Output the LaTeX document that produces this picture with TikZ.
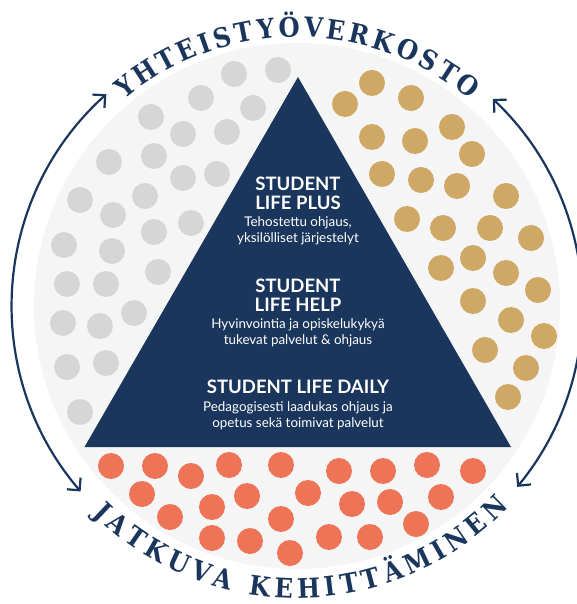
\documentclass[tikz,border=0pt]{standalone}
\usepackage{fontspec}
\setmainfont{Lato}
\newfontfamily\arcfont{DejaVu Serif Condensed}
\usetikzlibrary{arrows.meta, positioning, decorations.text}

\definecolor{navy}{RGB}{27, 54, 93}
\definecolor{discgrey}{RGB}{245, 245, 245}
\definecolor{dotgrey}{RGB}{214, 214, 214}
\definecolor{dotgold}{RGB}{207, 168, 102}
\definecolor{dotorange}{RGB}{238, 116, 87}

\newcommand{\ringfont}{\arcfont\bfseries\fontsize{27}{27}\selectfont\color{navy}}

\tikzset{
  tiertitle/.style={text=white, align=center, inner sep=0pt, font=\bfseries\fontsize{18.5}{19.5}\selectfont},
  tiernote/.style={text=white, align=center, inner sep=0pt, font=\fontsize{13.4}{16}\selectfont},
  ringarrow/.style={draw=navy, line width=2.2pt, <->, >={Straight Barb[length=9pt, width=18pt]}},
}

\begin{document}
\begin{tikzpicture}[x=1pt, y=1pt]
  \useasboundingbox (-297,-298) rectangle (279,306);

  % light disc behind everything
  \fill[discgrey] (0,0) circle[radius=263];

  % dots: partners (grey), services (gold), development (orange)
  \foreach \x/\y in {-63/232, -19/236, -96/208, -44/198, -146/189, -114/172, -70/174,
      -188/144, -143/150, -114/128, -80/132, -217/106, -184/91, -152/110, -106/83,
      -143/74, -233/61, -185/55, -139/34, -230/22, -191/22, -234/-17, -197/-20,
      -163/-7, -230/-61, -191/-57, -217/-106}
    \fill[dotgrey] (\x,\y) circle[radius=13];
  \foreach \x/\y in {75/223, 48/202, 114/208, 75/169, 118/165, 155/179, 175/152,
      85/132, 124/126, 160/120, 209/110, 110/87, 146/78, 193/78, 234/68, 144/38,
      176/48, 209/33, 241/16, 176/5, 214/-14, 247/-30, 188/-44, 229/-62, 211/-91}
    \fill[dotgold] (\x,\y) circle[radius=13];
  \foreach \x/\y in {-186/-160, -142/-160, -106/-170, -68/-159, -16/-159, 42/-165,
      86/-165, 130/-159, 176/-165, -155/-188, -50/-190, 11/-187, 55/-198, 93/-196,
      144/-191, -85/-201, -127/-211, -16/-213, 119/-218, -85/-232, -47/-235,
      32/-231, 73/-231, -7/-247}
    \fill[dotorange] (\x,\y) circle[radius=13];

  % pyramid
  \coordinate (apex) at (1,229);
  \coordinate (baseL) at (-212.5,-141);
  \coordinate (baseR) at (214,-141);
  \fill[navy] (apex) -- (baseL) -- (baseR) -- cycle;

  \node[tiertitle, anchor=north] (plus) at (1,129.3) {STUDENT\\LIFE PLUS};
  \node[tiernote, below=6pt of plus] (plusnote) {Tehostettu ohjaus,\\yksilölliset järjestelyt};
  \node[tiertitle, anchor=north] (help) at (1,27.7) {STUDENT\\LIFE HELP};
  \node[tiernote, below=7pt of help] (helpnote) {Hyvinvointia ja opiskelukykyä\\tukevat palvelut \& ohjaus};
  \node[tiertitle, anchor=north] (daily) at (1,-74) {STUDENT LIFE DAILY};
  \node[tiernote, below=7pt of daily] (dailynote) {Pedagogisesti laadukas ohjaus ja\\opetus sekä toimivat palvelut};

  % ring arrows
  \coordinate (lefttop) at (132:285);
  \coordinate (righttop) at (46.6:285);
  \draw[ringarrow] (lefttop) arc[start angle=132, end angle=220.6, radius=285];
  \draw[ringarrow] (righttop) arc[start angle=46.6, end angle=-39.4, radius=285];

  % ring texts
  \path[decorate, decoration={text along path, text align=fit to path,
      text={|\ringfont|YHTEISTYÖVERKOSTO}}]
    (130:269) arc[start angle=130, end angle=50, radius=269];
  \path[decorate, decoration={text along path, text align=fit to path,
      text={|\ringfont|JATKUVA KEHITTÄMINEN}}]
    (225.5:292) arc[start angle=225.5, end angle=316.5, radius=292];
\end{tikzpicture}
\end{document}
